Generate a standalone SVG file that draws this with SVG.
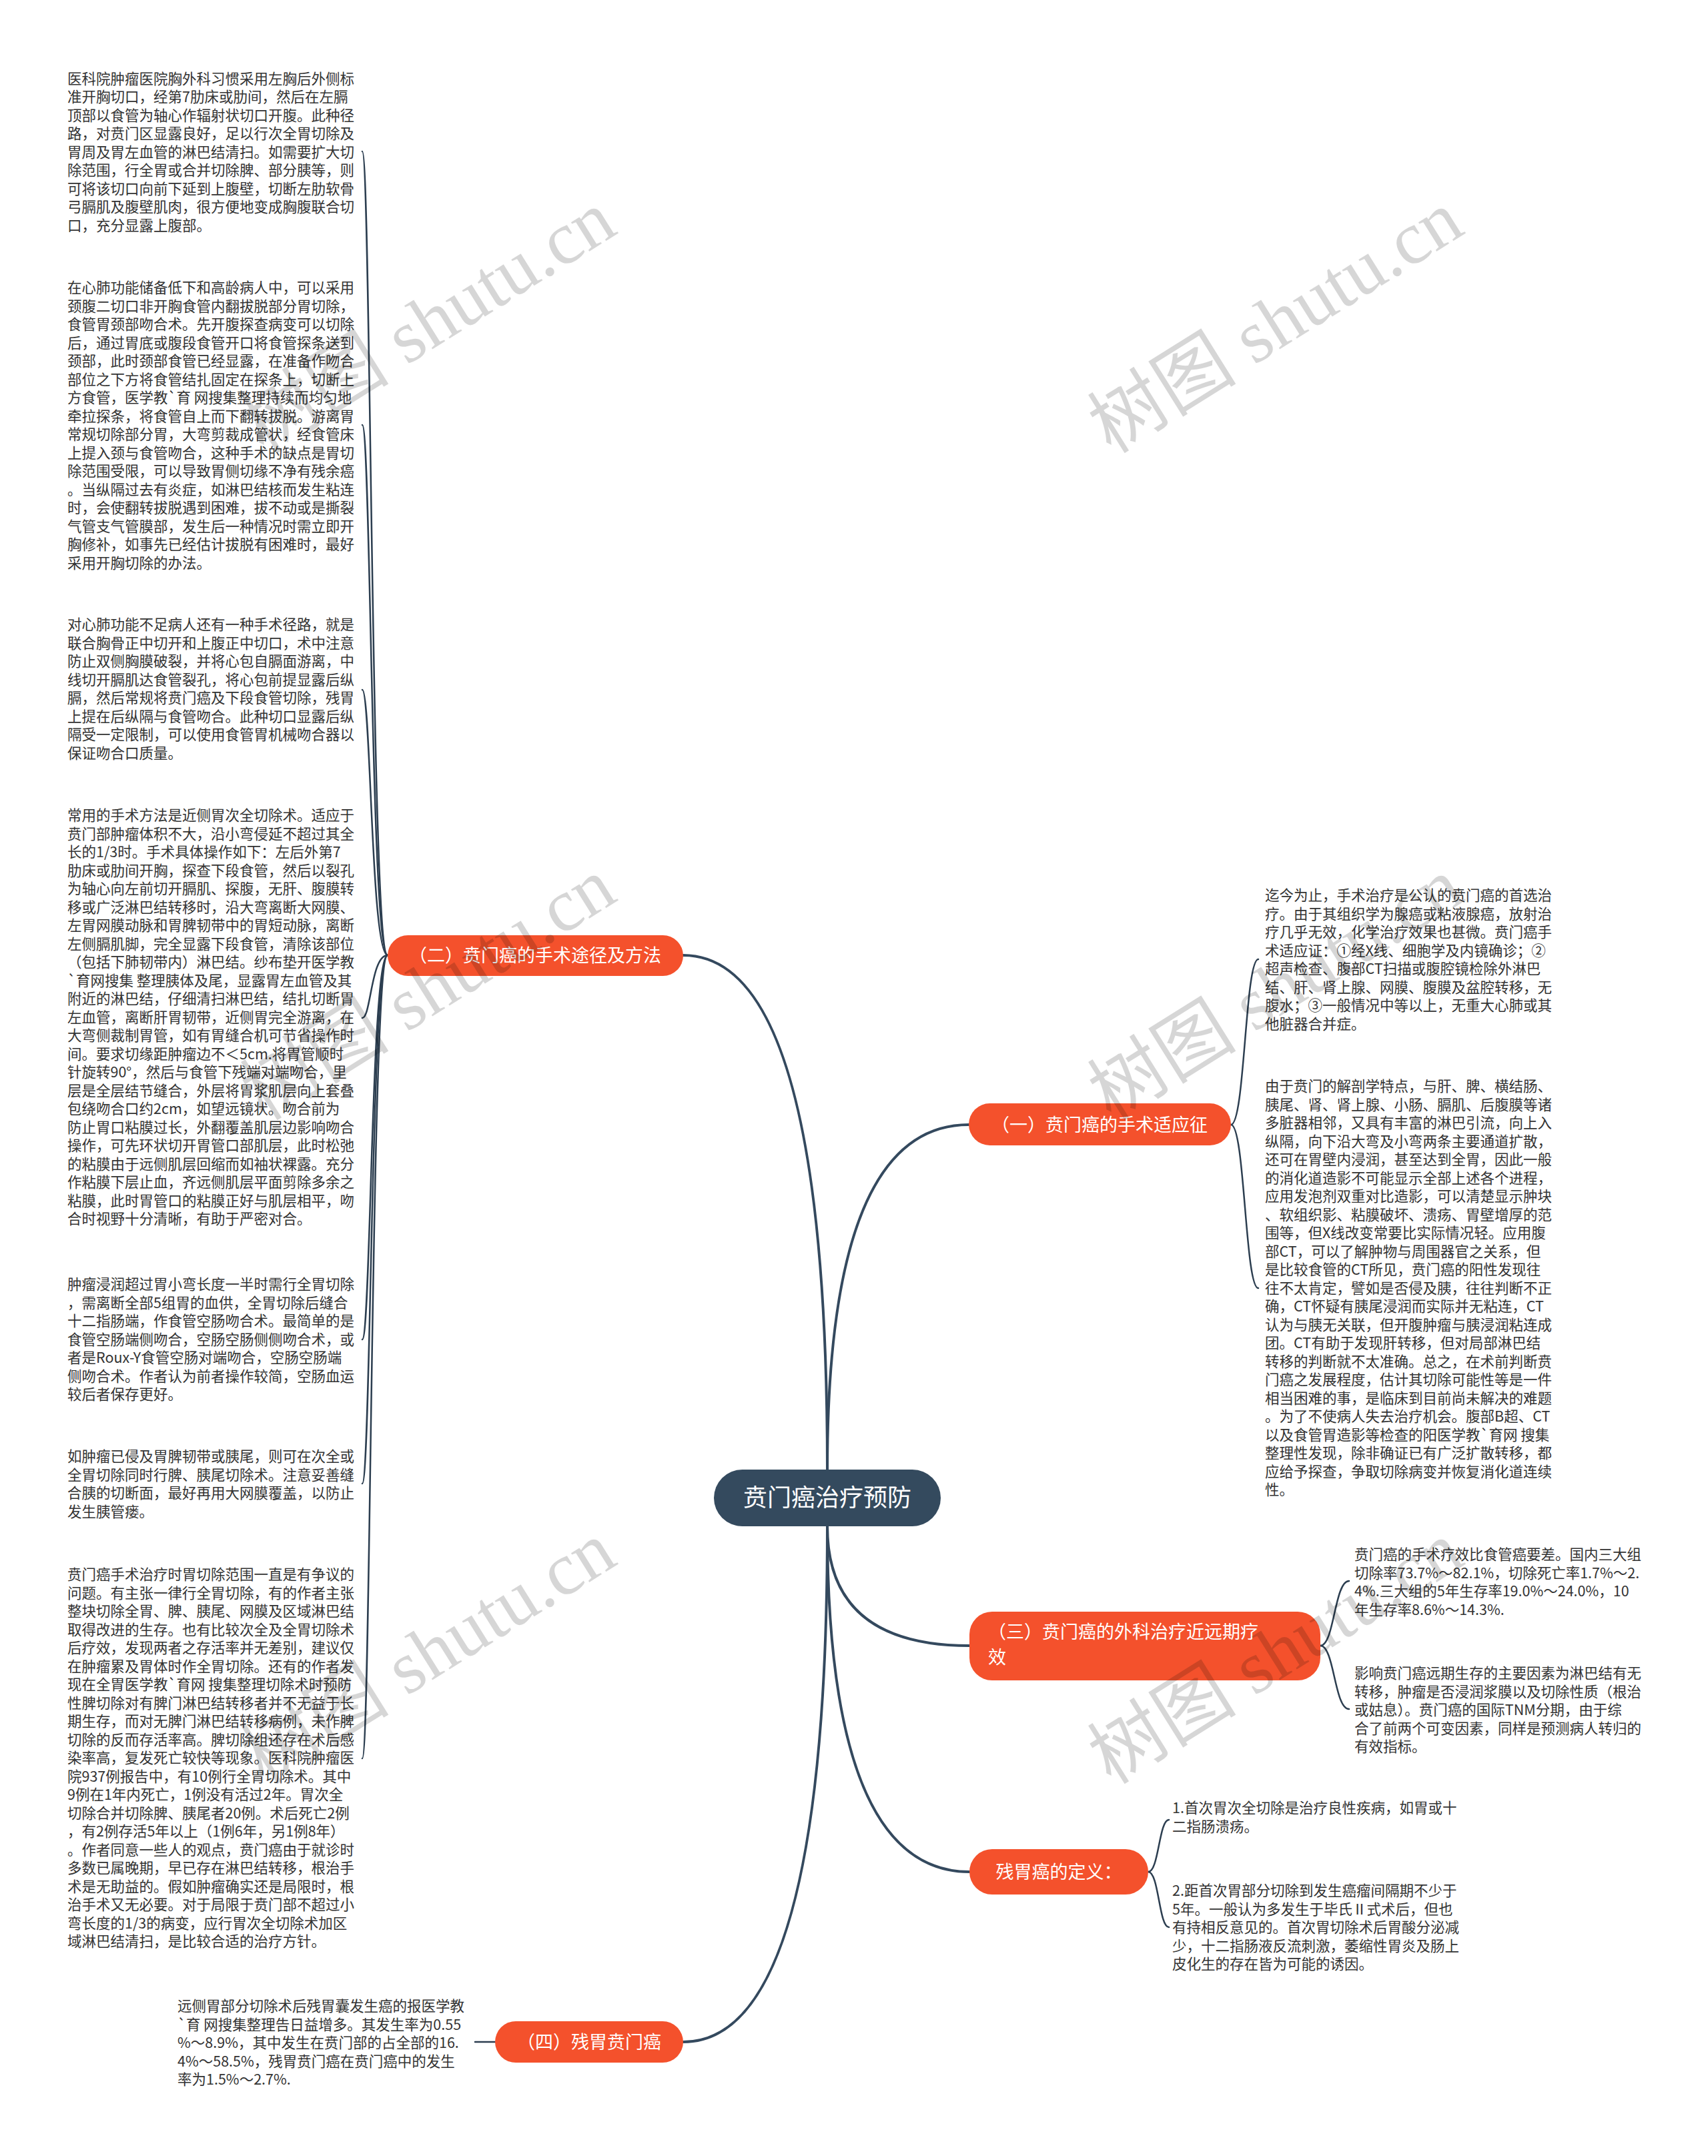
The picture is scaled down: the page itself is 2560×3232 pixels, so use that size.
<svg xmlns="http://www.w3.org/2000/svg" width="2560" height="3232" viewBox="0 0 2560 3232">
<style>
.t{font-family:"Noto Sans CJK SC","Noto Sans",sans-serif;font-size:21.5px;fill:#333333}
.bn{fill:#f4512c}
.bt{font-family:"Noto Sans CJK SC","Noto Sans",sans-serif;font-size:27px;fill:#ffffff}
.main{fill:none;stroke:#34495e;stroke-width:4;stroke-linecap:round}
.sub{fill:none;stroke:#2c3e50;stroke-width:2.5;stroke-linecap:round}
.wm{font-family:"Liberation Serif","Noto Sans CJK SC",serif;font-size:112px;fill:#000000;fill-opacity:0.16}
</style>
<rect width="2560" height="3232" fill="#ffffff"/>
<g id="connectors">
<path class="main" d="M1240,2203 Q1240,1432 1024,1432"/>
<path class="main" d="M1240,2203 Q1240,1686 1452,1686"/>
<path class="main" d="M1240,2288 Q1240,2467 1453,2467"/>
<path class="main" d="M1240,2288 Q1240,2806 1453,2806"/>
<path class="main" d="M1240,2288 Q1240,3061 1024,3061"/>
<path class="sub" d="M581,1432 C556,1432 556,227 543,227"/>
<path class="sub" d="M581,1432 C556,1432 556,637 543,637"/>
<path class="sub" d="M581,1432 C556,1432 556,1034 543,1034"/>
<path class="sub" d="M581,1432 C556,1432 556,1526 543,1526"/>
<path class="sub" d="M581,1432 C556,1432 556,2008 543,2008"/>
<path class="sub" d="M581,1432 C556,1432 556,2224 543,2224"/>
<path class="sub" d="M581,1432 C556,1432 556,2636 543,2636"/>
<path class="sub" d="M1845,1686 C1866,1686 1866,1438 1886,1438"/>
<path class="sub" d="M1845,1686 C1866,1686 1866,1931 1886,1931"/>
<path class="sub" d="M1979,2467 C2000,2467 2000,2370 2022,2370"/>
<path class="sub" d="M1979,2467 C2000,2467 2000,2562 2022,2562"/>
<path class="sub" d="M1721,2806 C1737,2806 1737,2728 1752,2728"/>
<path class="sub" d="M1721,2806 C1737,2806 1737,2889 1752,2889"/>
<path class="sub" d="M742,3061 L712,3061"/>
</g>
<g id="root">
<rect x="1070" y="2203" width="340" height="85" rx="42.5" fill="#344a5e"/>
<text x="1240" y="2258" text-anchor="middle" font-family="'Noto Sans CJK SC','Noto Sans',sans-serif" font-size="36" fill="#ffffff">贲门癌治疗预防</text>
</g>
<g id="branch1">
<rect class="bn" x="1452" y="1654" width="393" height="63" rx="31.5"/>
<text class="bt" x="1648" y="1696" text-anchor="middle">（一）贲门癌的手术适应征</text>
</g>
<g id="branch2">
<rect class="bn" x="581" y="1402" width="443" height="61" rx="30.5"/>
<text class="bt" x="802" y="1442" text-anchor="middle">（二）贲门癌的手术途径及方法</text>
</g>
<g id="branch3">
<rect class="bn" x="1453" y="2416" width="526" height="103" rx="34"/>
<text class="bt" x="1481" y="2456">（三）贲门癌的外科治疗近远期疗</text>
<text class="bt" x="1481" y="2494">效</text>
</g>
<g id="branch5">
<rect class="bn" x="1453" y="2772" width="268" height="68" rx="34"/>
<text class="bt" x="1587" y="2816" text-anchor="middle">残胃癌的定义：</text>
</g>
<g id="branch4">
<rect class="bn" x="742" y="3030" width="282" height="62" rx="31"/>
<text class="bt" x="883" y="3071" text-anchor="middle">（四）残胃贲门癌</text>
</g>
<g id="leaf-2-1">
<text class="t" x="101" y="125.5"><tspan x="101" dy="0">医科院肿瘤医院胸外科习惯采用左胸后外侧标</tspan><tspan x="101" dy="27.5">准开胸切口，经第7肋床或肋间，然后在左膈</tspan><tspan x="101" dy="27.5">顶部以食管为轴心作辐射状切口开腹。此种径</tspan><tspan x="101" dy="27.5">路，对贲门区显露良好，足以行次全胃切除及</tspan><tspan x="101" dy="27.5">胃周及胃左血管的淋巴结清扫。如需要扩大切</tspan><tspan x="101" dy="27.5">除范围，行全胃或合并切除脾、部分胰等，则</tspan><tspan x="101" dy="27.5">可将该切口向前下延到上腹壁，切断左肋软骨</tspan><tspan x="101" dy="27.5">弓膈肌及腹壁肌肉，很方便地变成胸腹联合切</tspan><tspan x="101" dy="27.5">口，充分显露上腹部。</tspan></text>
</g>
<g id="leaf-2-2">
<text class="t" x="101" y="439"><tspan x="101" dy="0">在心肺功能储备低下和高龄病人中，可以采用</tspan><tspan x="101" dy="27.5">颈腹二切口非开胸食管内翻拔脱部分胃切除，</tspan><tspan x="101" dy="27.5">食管胃颈部吻合术。先开腹探查病变可以切除</tspan><tspan x="101" dy="27.5">后，通过胃底或腹段食管开口将食管探条送到</tspan><tspan x="101" dy="27.5">颈部，此时颈部食管已经显露，在准备作吻合</tspan><tspan x="101" dy="27.5">部位之下方将食管结扎固定在探条上，切断上</tspan><tspan x="101" dy="27.5">方食管，医学教`育 网搜集整理持续而均匀地</tspan><tspan x="101" dy="27.5">牵拉探条，将食管自上而下翻转拔脱。游离胃</tspan><tspan x="101" dy="27.5">常规切除部分胃，大弯剪裁成管状，经食管床</tspan><tspan x="101" dy="27.5">上提入颈与食管吻合，这种手术的缺点是胃切</tspan><tspan x="101" dy="27.5">除范围受限，可以导致胃侧切缘不净有残余癌</tspan><tspan x="101" dy="27.5">。当纵隔过去有炎症，如淋巴结核而发生粘连</tspan><tspan x="101" dy="27.5">时，会使翻转拔脱遇到困难，拔不动或是撕裂</tspan><tspan x="101" dy="27.5">气管支气管膜部，发生后一种情况时需立即开</tspan><tspan x="101" dy="27.5">胸修补，如事先已经估计拔脱有困难时，最好</tspan><tspan x="101" dy="27.5">采用开胸切除的办法。</tspan></text>
</g>
<g id="leaf-2-3">
<text class="t" x="101" y="944"><tspan x="101" dy="0">对心肺功能不足病人还有一种手术径路，就是</tspan><tspan x="101" dy="27.5">联合胸骨正中切开和上腹正中切口，术中注意</tspan><tspan x="101" dy="27.5">防止双侧胸膜破裂，并将心包自膈面游离，中</tspan><tspan x="101" dy="27.5">线切开膈肌达食管裂孔，将心包前提显露后纵</tspan><tspan x="101" dy="27.5">膈，然后常规将贲门癌及下段食管切除，残胃</tspan><tspan x="101" dy="27.5">上提在后纵隔与食管吻合。此种切口显露后纵</tspan><tspan x="101" dy="27.5">隔受一定限制，可以使用食管胃机械吻合器以</tspan><tspan x="101" dy="27.5">保证吻合口质量。</tspan></text>
</g>
<g id="leaf-2-4">
<text class="t" x="101" y="1230"><tspan x="101" dy="0">常用的手术方法是近侧胃次全切除术。适应于</tspan><tspan x="101" dy="27.5">贲门部肿瘤体积不大，沿小弯侵延不超过其全</tspan><tspan x="101" dy="27.5">长的1/3时。手术具体操作如下：左后外第7</tspan><tspan x="101" dy="27.5">肋床或肋间开胸，探查下段食管，然后以裂孔</tspan><tspan x="101" dy="27.5">为轴心向左前切开膈肌、探腹，无肝、腹膜转</tspan><tspan x="101" dy="27.5">移或广泛淋巴结转移时，沿大弯离断大网膜、</tspan><tspan x="101" dy="27.5">左胃网膜动脉和胃脾韧带中的胃短动脉，离断</tspan><tspan x="101" dy="27.5">左侧膈肌脚，完全显露下段食管，清除该部位</tspan><tspan x="101" dy="27.5">（包括下肺韧带内）淋巴结。纱布垫开医学教</tspan><tspan x="101" dy="27.5">`育网搜集 整理胰体及尾，显露胃左血管及其</tspan><tspan x="101" dy="27.5">附近的淋巴结，仔细清扫淋巴结，结扎切断胃</tspan><tspan x="101" dy="27.5">左血管，离断肝胃韧带，近侧胃完全游离，在</tspan><tspan x="101" dy="27.5">大弯侧裁制胃管，如有胃缝合机可节省操作时</tspan><tspan x="101" dy="27.5">间。要求切缘距肿瘤边不＜5cm.将胃管顺时</tspan><tspan x="101" dy="27.5">针旋转90°，然后与食管下残端对端吻合，里</tspan><tspan x="101" dy="27.5">层是全层结节缝合，外层将胃浆肌层向上套叠</tspan><tspan x="101" dy="27.5">包绕吻合口约2cm，如望远镜状。吻合前为</tspan><tspan x="101" dy="27.5">防止胃口粘膜过长，外翻覆盖肌层边影响吻合</tspan><tspan x="101" dy="27.5">操作，可先环状切开胃管口部肌层，此时松弛</tspan><tspan x="101" dy="27.5">的粘膜由于远侧肌层回缩而如袖状裸露。充分</tspan><tspan x="101" dy="27.5">作粘膜下层止血，齐远侧肌层平面剪除多余之</tspan><tspan x="101" dy="27.5">粘膜，此时胃管口的粘膜正好与肌层相平，吻</tspan><tspan x="101" dy="27.5">合时视野十分清晰，有助于严密对合。</tspan></text>
</g>
<g id="leaf-2-5">
<text class="t" x="101" y="1933"><tspan x="101" dy="0">肿瘤浸润超过胃小弯长度一半时需行全胃切除</tspan><tspan x="101" dy="27.5">，需离断全部5组胃的血供，全胃切除后缝合</tspan><tspan x="101" dy="27.5">十二指肠端，作食管空肠吻合术。最简单的是</tspan><tspan x="101" dy="27.5">食管空肠端侧吻合，空肠空肠侧侧吻合术，或</tspan><tspan x="101" dy="27.5">者是Roux-Y食管空肠对端吻合，空肠空肠端</tspan><tspan x="101" dy="27.5">侧吻合术。作者认为前者操作较简，空肠血运</tspan><tspan x="101" dy="27.5">较后者保存更好。</tspan></text>
</g>
<g id="leaf-2-6">
<text class="t" x="101" y="2191"><tspan x="101" dy="0">如肿瘤已侵及胃脾韧带或胰尾，则可在次全或</tspan><tspan x="101" dy="27.5">全胃切除同时行脾、胰尾切除术。注意妥善缝</tspan><tspan x="101" dy="27.5">合胰的切断面，最好再用大网膜覆盖，以防止</tspan><tspan x="101" dy="27.5">发生胰管瘘。</tspan></text>
</g>
<g id="leaf-2-7">
<text class="t" x="101" y="2368"><tspan x="101" dy="0">贲门癌手术治疗时胃切除范围一直是有争议的</tspan><tspan x="101" dy="27.5">问题。有主张一律行全胃切除，有的作者主张</tspan><tspan x="101" dy="27.5">整块切除全胃、脾、胰尾、网膜及区域淋巴结</tspan><tspan x="101" dy="27.5">取得改进的生存。也有比较次全及全胃切除术</tspan><tspan x="101" dy="27.5">后疗效，发现两者之存活率并无差别，建议仅</tspan><tspan x="101" dy="27.5">在肿瘤累及胃体时作全胃切除。还有的作者发</tspan><tspan x="101" dy="27.5">现在全胃医学教`育网 搜集整理切除术时预防</tspan><tspan x="101" dy="27.5">性脾切除对有脾门淋巴结转移者并不无益于长</tspan><tspan x="101" dy="27.5">期生存，而对无脾门淋巴结转移病例，未作脾</tspan><tspan x="101" dy="27.5">切除的反而存活率高。脾切除组还存在术后感</tspan><tspan x="101" dy="27.5">染率高，复发死亡较快等现象。医科院肿瘤医</tspan><tspan x="101" dy="27.5">院937例报告中，有10例行全胃切除术。其中</tspan><tspan x="101" dy="27.5">9例在1年内死亡，1例没有活过2年。胃次全</tspan><tspan x="101" dy="27.5">切除合并切除脾、胰尾者20例。术后死亡2例</tspan><tspan x="101" dy="27.5">，有2例存活5年以上（1例6年，另1例8年）</tspan><tspan x="101" dy="27.5">。作者同意一些人的观点，贲门癌由于就诊时</tspan><tspan x="101" dy="27.5">多数已属晚期，早已存在淋巴结转移，根治手</tspan><tspan x="101" dy="27.5">术是无助益的。假如肿瘤确实还是局限时，根</tspan><tspan x="101" dy="27.5">治手术又无必要。对于局限于贲门部不超过小</tspan><tspan x="101" dy="27.5">弯长度的1/3的病变，应行胃次全切除术加区</tspan><tspan x="101" dy="27.5">域淋巴结清扫，是比较合适的治疗方针。</tspan></text>
</g>
<g id="leaf-1-1">
<text class="t" x="1896" y="1350"><tspan x="1896" dy="0">迄今为止，手术治疗是公认的贲门癌的首选治</tspan><tspan x="1896" dy="27.5">疗。由于其组织学为腺癌或粘液腺癌，放射治</tspan><tspan x="1896" dy="27.5">疗几乎无效，化学治疗效果也甚微。贲门癌手</tspan><tspan x="1896" dy="27.5">术适应证：①经X线、细胞学及内镜确诊；②</tspan><tspan x="1896" dy="27.5">超声检查、腹部CT扫描或腹腔镜检除外淋巴</tspan><tspan x="1896" dy="27.5">结、肝、肾上腺、网膜、腹膜及盆腔转移，无</tspan><tspan x="1896" dy="27.5">腹水；③一般情况中等以上，无重大心肺或其</tspan><tspan x="1896" dy="27.5">他脏器合并症。</tspan></text>
</g>
<g id="leaf-1-2">
<text class="t" x="1896" y="1636"><tspan x="1896" dy="0">由于贲门的解剖学特点，与肝、脾、横结肠、</tspan><tspan x="1896" dy="27.5">胰尾、肾、肾上腺、小肠、膈肌、后腹膜等诸</tspan><tspan x="1896" dy="27.5">多脏器相邻，又具有丰富的淋巴引流，向上入</tspan><tspan x="1896" dy="27.5">纵隔，向下沿大弯及小弯两条主要通道扩散，</tspan><tspan x="1896" dy="27.5">还可在胃壁内浸润，甚至达到全胃，因此一般</tspan><tspan x="1896" dy="27.5">的消化道造影不可能显示全部上述各个进程，</tspan><tspan x="1896" dy="27.5">应用发泡剂双重对比造影，可以清楚显示肿块</tspan><tspan x="1896" dy="27.5">、软组织影、粘膜破坏、溃疡、胃壁增厚的范</tspan><tspan x="1896" dy="27.5">围等，但X线改变常要比实际情况轻。应用腹</tspan><tspan x="1896" dy="27.5">部CT，可以了解肿物与周围器官之关系，但</tspan><tspan x="1896" dy="27.5">是比较食管的CT所见，贲门癌的阳性发现往</tspan><tspan x="1896" dy="27.5">往不太肯定，譬如是否侵及胰，往往判断不正</tspan><tspan x="1896" dy="27.5">确，CT怀疑有胰尾浸润而实际并无粘连，CT</tspan><tspan x="1896" dy="27.5">认为与胰无关联，但开腹肿瘤与胰浸润粘连成</tspan><tspan x="1896" dy="27.5">团。CT有助于发现肝转移，但对局部淋巴结</tspan><tspan x="1896" dy="27.5">转移的判断就不太准确。总之，在术前判断贲</tspan><tspan x="1896" dy="27.5">门癌之发展程度，估计其切除可能性等是一件</tspan><tspan x="1896" dy="27.5">相当困难的事，是临床到目前尚未解决的难题</tspan><tspan x="1896" dy="27.5">。为了不使病人失去治疗机会。腹部B超、CT</tspan><tspan x="1896" dy="27.5">以及食管胃造影等检查的阳医学教`育网 搜集</tspan><tspan x="1896" dy="27.5">整理性发现，除非确证已有广泛扩散转移，都</tspan><tspan x="1896" dy="27.5">应给予探查，争取切除病变并恢复消化道连续</tspan><tspan x="1896" dy="27.5">性。</tspan></text>
</g>
<g id="leaf-3-1">
<text class="t" x="2030" y="2338"><tspan x="2030" dy="0">贲门癌的手术疗效比食管癌要差。国内三大组</tspan><tspan x="2030" dy="27.5">切除率73.7%～82.1%，切除死亡率1.7%～2.</tspan><tspan x="2030" dy="27.5">4%.三大组的5年生存率19.0%～24.0%，10</tspan><tspan x="2030" dy="27.5">年生存率8.6%～14.3%.</tspan></text>
</g>
<g id="leaf-3-2">
<text class="t" x="2030" y="2516"><tspan x="2030" dy="0">影响贲门癌远期生存的主要因素为淋巴结有无</tspan><tspan x="2030" dy="27.5">转移，肿瘤是否浸润浆膜以及切除性质（根治</tspan><tspan x="2030" dy="27.5">或姑息）。贲门癌的国际TNM分期，由于综</tspan><tspan x="2030" dy="27.5">合了前两个可变因素，同样是预测病人转归的</tspan><tspan x="2030" dy="27.5">有效指标。</tspan></text>
</g>
<g id="leaf-5-1">
<text class="t" x="1757" y="2718"><tspan x="1757" dy="0">1.首次胃次全切除是治疗良性疾病，如胃或十</tspan><tspan x="1757" dy="27.5">二指肠溃疡。</tspan></text>
</g>
<g id="leaf-5-2">
<text class="t" x="1757" y="2842"><tspan x="1757" dy="0">2.距首次胃部分切除到发生癌瘤间隔期不少于</tspan><tspan x="1757" dy="27.5">5年。一般认为多发生于毕氏Ⅱ式术后，但也</tspan><tspan x="1757" dy="27.5">有持相反意见的。首次胃切除术后胃酸分泌减</tspan><tspan x="1757" dy="27.5">少，十二指肠液反流刺激，萎缩性胃炎及肠上</tspan><tspan x="1757" dy="27.5">皮化生的存在皆为可能的诱因。</tspan></text>
</g>
<g id="leaf-4-1">
<text class="t" x="266" y="3015"><tspan x="266" dy="0">远侧胃部分切除术后残胃囊发生癌的报医学教</tspan><tspan x="266" dy="27.5">`育 网搜集整理告日益增多。其发生率为0.55</tspan><tspan x="266" dy="27.5">%～8.9%，其中发生在贲门部的占全部的16.</tspan><tspan x="266" dy="27.5">4%～58.5%，残胃贲门癌在贲门癌中的发生</tspan><tspan x="266" dy="27.5">率为1.5%～2.7%.</tspan></text>
</g>
<g id="watermarks">
<text class="wm" text-anchor="middle" transform="translate(662,515) rotate(-32)">树图 shutu.cn</text>
<text class="wm" text-anchor="middle" transform="translate(1932,515) rotate(-32)">树图 shutu.cn</text>
<text class="wm" text-anchor="middle" transform="translate(662,1515) rotate(-32)">树图 shutu.cn</text>
<text class="wm" text-anchor="middle" transform="translate(1932,1515) rotate(-32)">树图 shutu.cn</text>
<text class="wm" text-anchor="middle" transform="translate(662,2510) rotate(-32)">树图 shutu.cn</text>
<text class="wm" text-anchor="middle" transform="translate(1932,2510) rotate(-32)">树图 shutu.cn</text>
</g>
</svg>
